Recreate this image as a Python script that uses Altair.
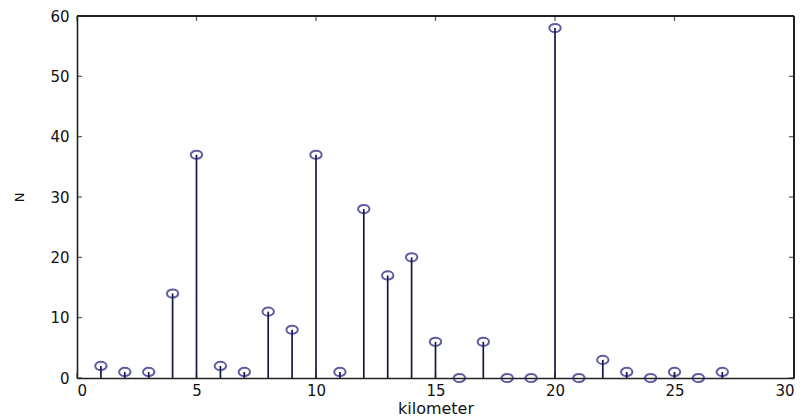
import altair as alt
import pandas as pd

km = list(range(1, 28))
counts = [2, 1, 1, 14, 37, 2, 1, 11, 8, 37, 1, 28, 17, 20, 6, 0, 6, 0, 0, 58, 0, 3, 1, 0, 1, 0, 1]
x_ticks = [0, 5, 10, 15, 20, 25, 30]
y_ticks = [0, 10, 20, 30, 40, 50, 60]

df = pd.DataFrame({"km": km, "N": counts})
xt = pd.DataFrame({"v": x_ticks})
yt = pd.DataFrame({"v": y_ticks})

W, H = 717, 362
xs = alt.Scale(domain=[0, 30], nice=False, zero=False)
ys = alt.Scale(domain=[0, 60], nice=False)
font = "DejaVu Sans"
ellipse = "M -1 0 A 1 0.72 0 1 0 1 0 A 1 0.72 0 1 0 -1 0 Z"

base = alt.Chart(df)
stems = base.mark_rule(color="#15154a", strokeWidth=1.7).encode(
    x=alt.X("km:Q", scale=xs,
            axis=alt.Axis(values=x_ticks, title="kilometer", ticks=False, grid=False,
                          domainColor="#222", domainWidth=1.6, labelFont=font, labelFontSize=15,
                          labelColor="#111", labelPadding=5, titleFont=font, titleFontSize=16,
                          titleFontWeight="normal", titleColor="#111", titlePadding=2)),
    y=alt.Y("N:Q", scale=ys,
            axis=alt.Axis(values=y_ticks, title="N", ticks=False, grid=False,
                          domainColor="#222", domainWidth=1.6, labelFont=font, labelFontSize=15,
                          labelColor="#111", labelPadding=8, titleFont=font, titleFontSize=13,
                          titleFontWeight="normal", titleColor="#111", titlePadding=23)),
    y2=alt.datum(0),
)
markers = base.mark_point(shape=ellipse, filled=False, color="#1c1c78", size=130, strokeWidth=2).encode(
    x=alt.X("km:Q", scale=xs), y=alt.Y("N:Q", scale=ys)
)

# frame: top and right lines
top_line = alt.Chart(xt).mark_rule(color="#222", strokeWidth=1.6).encode(
    x=alt.value(0), x2=alt.value(W), y=alt.value(0))
right_line = alt.Chart(xt).mark_rule(color="#222", strokeWidth=1.6).encode(
    y=alt.value(0), y2=alt.value(H), x=alt.value(W))

# inward ticks
tk = dict(color="#222", size=5, thickness=1.3)
xt_bottom = alt.Chart(xt).mark_tick(orient="vertical", **tk).encode(
    x=alt.X("v:Q", scale=xs), y=alt.value(H - 2.5))
xt_top = alt.Chart(xt).mark_tick(orient="vertical", **tk).encode(
    x=alt.X("v:Q", scale=xs), y=alt.value(2.5))
yt_left = alt.Chart(yt).mark_tick(orient="horizontal", **tk).encode(
    y=alt.Y("v:Q", scale=ys), x=alt.value(2.5))
yt_right = alt.Chart(yt).mark_tick(orient="horizontal", **tk).encode(
    y=alt.Y("v:Q", scale=ys), x=alt.value(W - 2.5))

chart = alt.layer(stems, markers, top_line, right_line, xt_bottom, xt_top, yt_left, yt_right).properties(
    width=W, height=H,
    autosize=alt.AutoSizeParams(type="none"),
    padding={"left": 69, "top": 8, "right": 2, "bottom": 42},
).configure_view(stroke=None).configure(background="white")

chart.save("out.html", embed_options={"renderer": "svg", "actions": False})
